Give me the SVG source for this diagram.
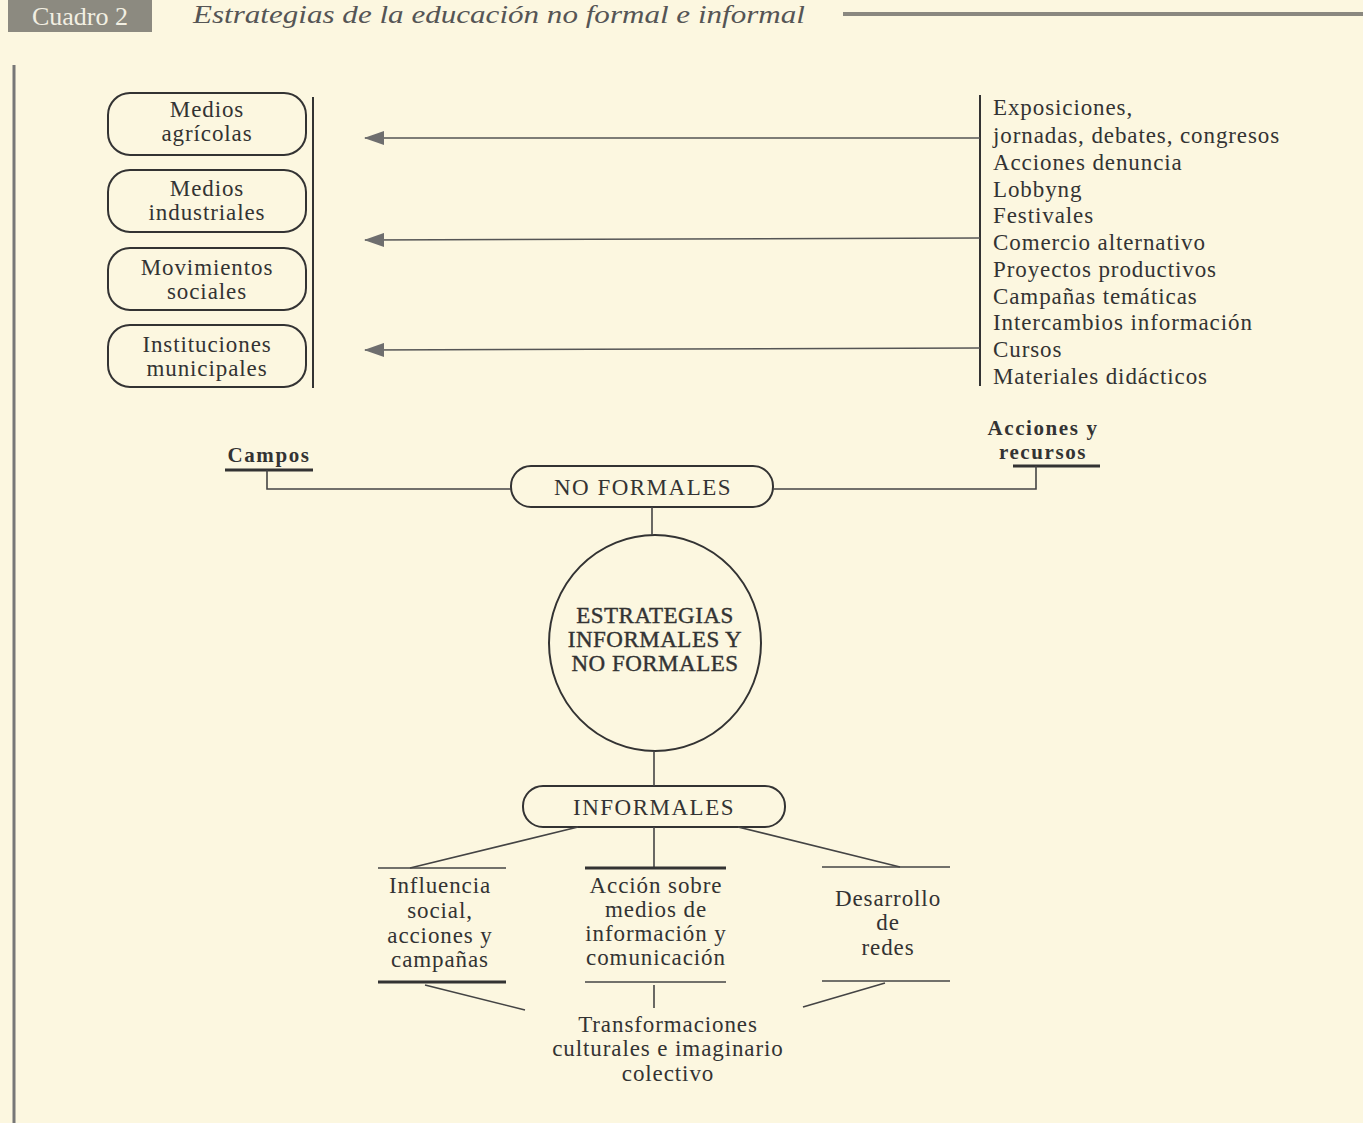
<svg xmlns="http://www.w3.org/2000/svg" width="1363" height="1123" viewBox="0 0 1363 1123">
<defs>
<style>
.t{font-family:"Liberation Serif","DejaVu Serif",serif;font-size:23px;letter-spacing:0.9px;fill:#333;}
.c{text-anchor:middle;}
.b{font-weight:bold;font-size:21px;letter-spacing:1.6px;}
.box{fill:none;stroke:#333;stroke-width:2;}
.ln{fill:none;stroke:#444;stroke-width:1.6;}
.th{fill:none;stroke:#333;stroke-width:3;}
.ar{fill:none;stroke:#555;stroke-width:1.6;marker-end:url(#ah);}
.big{letter-spacing:0.5px;stroke:#333;stroke-width:0.4;}
</style>
<marker id="ah" viewBox="0 0 20 14" refX="19" refY="7" markerWidth="20" markerHeight="14" markerUnits="userSpaceOnUse" orient="auto">
<path d="M20,7 L0,0 L0,14 Z" fill="#6e6e6e"/>
</marker>
</defs>
<rect width="1363" height="1123" fill="#fcf7e0"/>
<g id="header">
<rect x="8" y="0" width="144" height="32" fill="#8c8a80"/>
<text x="80" y="25" class="t c" style="fill:#f2efe2;font-size:26px;letter-spacing:0">Cuadro 2</text>
<text x="193" y="23" class="t" style="font-style:italic;fill:#555;font-size:26px;letter-spacing:0" textLength="612" lengthAdjust="spacingAndGlyphs">Estrategias de la educación no formal e informal</text>
<line x1="843" y1="14" x2="1363" y2="14" stroke="#8a8880" stroke-width="4"/>
<line x1="14" y1="65" x2="14" y2="1123" stroke="#777" stroke-width="3"/>
</g>
<g id="campos-list">
<g id="n-agricolas"><rect x="108" y="93" width="198" height="62" rx="22" class="box"/><text x="207" y="117" class="t c">Medios</text><text x="207" y="141" class="t c">agrícolas</text></g>
<g id="n-industriales"><rect x="108" y="170" width="198" height="62" rx="22" class="box"/><text x="207" y="196" class="t c">Medios</text><text x="207" y="220" class="t c">industriales</text></g>
<g id="n-movimientos"><rect x="108" y="248" width="198" height="62" rx="22" class="box"/><text x="207" y="275" class="t c">Movimientos</text><text x="207" y="299" class="t c">sociales</text></g>
<g id="n-instituciones"><rect x="108" y="325" width="198" height="62" rx="22" class="box"/><text x="207" y="352" class="t c">Instituciones</text><text x="207" y="376" class="t c">municipales</text></g>
</g>
<g id="acciones-list">
<text class="t" x="993" y="115">Exposiciones,</text>
<text class="t" x="993" y="143">jornadas, debates, congresos</text>
<text class="t" x="993" y="170">Acciones denuncia</text>
<text class="t" x="993" y="197">Lobbyng</text>
<text class="t" x="993" y="223">Festivales</text>
<text class="t" x="993" y="250">Comercio alternativo</text>
<text class="t" x="993" y="277">Proyectos productivos</text>
<text class="t" x="993" y="304">Campañas temáticas</text>
<text class="t" x="993" y="330">Intercambios información</text>
<text class="t" x="993" y="357">Cursos</text>
<text class="t" x="993" y="384">Materiales didácticos</text>
</g>
<g id="campos"><text x="269" y="462" class="t c b">Campos</text></g>
<g id="acciones-recursos"><text x="1043" y="435" class="t c b">Acciones y</text><text x="1043" y="459" class="t c b">recursos</text></g>
<g id="no-formales"><rect x="511" y="466" width="262" height="41" rx="20" class="box"/><text x="643" y="495" class="t c" style="letter-spacing:1.5px">NO FORMALES</text></g>
<g id="estrategias"><ellipse cx="655" cy="643" rx="106" ry="108" class="box"/><text x="655" y="623" class="t c big">ESTRATEGIAS</text><text x="655" y="647" class="t c big">INFORMALES Y</text><text x="655" y="671" class="t c big">NO FORMALES</text></g>
<g id="informales"><rect x="523" y="786" width="262" height="41" rx="20" class="box"/><text x="654" y="815" class="t c" style="letter-spacing:1.5px">INFORMALES</text></g>
<g id="influencia"><text x="440" y="893" class="t c">Influencia</text><text x="440" y="918" class="t c">social,</text><text x="440" y="943" class="t c">acciones y</text><text x="440" y="967" class="t c">campañas</text></g>
<g id="accion"><text x="656" y="893" class="t c">Acción sobre</text><text x="656" y="917" class="t c">medios de</text><text x="656" y="941" class="t c">información y</text><text x="656" y="965" class="t c">comunicación</text></g>
<g id="desarrollo"><text x="888" y="906" class="t c">Desarrollo</text><text x="888" y="930" class="t c">de</text><text x="888" y="955" class="t c">redes</text></g>
<g id="transformaciones"><text x="668" y="1032" class="t c">Transformaciones</text><text x="668" y="1056" class="t c">culturales e imaginario</text><text x="668" y="1081" class="t c">colectivo</text></g>
<g id="connectors">
<line x1="313" y1="97" x2="313" y2="388" class="th" style="stroke-width:2"/>
<line x1="980" y1="95" x2="980" y2="386" class="th" style="stroke-width:2"/>
<line x1="980" y1="138" x2="365" y2="138" class="ar"/>
<line x1="980" y1="238" x2="365" y2="240" class="ar"/>
<line x1="980" y1="348" x2="365" y2="350" class="ar"/>
<line x1="225" y1="470" x2="313" y2="470" class="th"/>
<polyline points="267,470 267,489 511,489" class="ln"/>
<line x1="1013" y1="466" x2="1100" y2="466" class="th"/>
<polyline points="773,489 1036,489 1036,466" class="ln"/>
<line x1="652" y1="507" x2="652" y2="535" class="ln"/>
<line x1="654" y1="751" x2="654" y2="786" class="ln"/>
<line x1="578" y1="827" x2="410" y2="868" class="ln"/>
<line x1="654" y1="827" x2="654" y2="868" class="ln"/>
<line x1="738" y1="827" x2="900" y2="867" class="ln"/>
<line x1="378" y1="868" x2="506" y2="868" class="ln"/>
<line x1="585" y1="868" x2="726" y2="868" class="th"/>
<line x1="822" y1="867" x2="950" y2="867" class="ln"/>
<line x1="378" y1="982" x2="506" y2="982" class="th"/>
<line x1="585" y1="982" x2="726" y2="982" class="ln"/>
<line x1="822" y1="981" x2="950" y2="981" class="ln"/>
<line x1="425" y1="985" x2="525" y2="1010" class="ln"/>
<line x1="654" y1="985" x2="654" y2="1008" class="ln"/>
<line x1="885" y1="983" x2="803" y2="1007" class="ln"/>
</g>
</svg>
